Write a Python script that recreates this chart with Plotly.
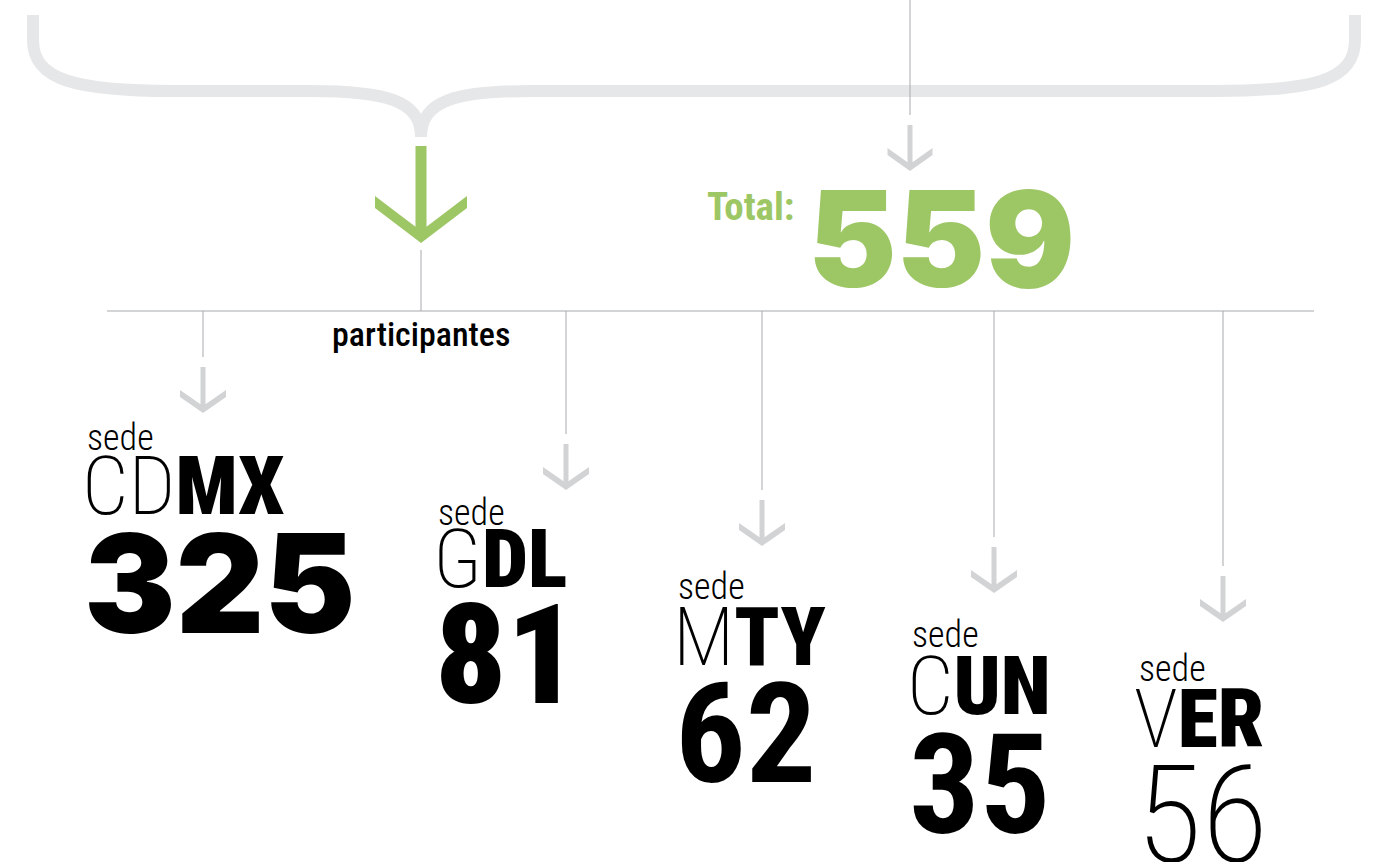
import plotly.graph_objects as go

# ---- data ----
sedes = ["CDMX", "GDL", "MTY", "CUN", "VER"]
participantes = [325, 81, 62, 35, 56]
total = sum(participantes)  # 559

# ---- layout (positions / styles, not data) ----
W, H = 1383, 862
branch_x = [203, 566, 762, 994, 1223]          # x of each branch line
branch_end = [357, 434, 490, 537, 566]         # y where each thin line stops
label_x = [80, 431, 671, 905, 1132]            # left edge of each label block
sede_y = [438, 513, 587, 635, 669]
code_y = [486, 559, 637, 686, 719]
num_y = [583, 655, 734, 785, 815]
thin_len = [2, 1, 1, 1, 1]
num_font = [dict(family="Inter", size=137, weight=900),
            dict(family="Roboto Condensed", size=140, weight=900),
            dict(family="Roboto Condensed", size=140, weight=700),
            dict(family="Roboto Condensed", size=140, weight=700),
            dict(family="Roboto Condensed", size=136, weight=200)]

GREEN = "#9dc665"
ARROW_GRAY = "#d1d3d4"
BRACE_GRAY = "#e6e7e8"
LINE_GRAY = "#a7a9ac"
COND = "Roboto Condensed"

fig = go.Figure()
fig.update_layout(width=W, height=H, margin=dict(l=0, r=0, t=0, b=0),
                  xaxis=dict(range=[0, W], visible=False, fixedrange=True),
                  yaxis=dict(range=[H, 0], visible=False, fixedrange=True),
                  plot_bgcolor="white", paper_bgcolor="white", showlegend=False)


def arrow_path(cx, y0, y1, y2, hw, sw, c):
    s = (y2 - y1 - c) / hw
    yj = y1 + s * (hw - sw)
    pts = [(cx - sw, y0), (cx + sw, y0), (cx + sw, yj), (cx + hw, y1), (cx + hw, y1 + c),
           (cx, y2), (cx - hw, y1 + c), (cx - hw, y1), (cx - sw, yj)]
    return "M " + " L ".join(f"{x:.1f} {y:.1f}" for x, y in pts) + " Z"


shapes = []
# brace
brace = ("M 33 15 V 40 C 33 80 75 91 175 91 H 310 C 385 91 421 100 421 137 "
         "M 421 137 C 421 100 457 91 532 91 H 1215 C 1315 91 1355 80 1355 40 V 15")
shapes.append(dict(type="path", path=brace, line=dict(color=BRACE_GRAY, width=12), fillcolor="rgba(0,0,0,0)"))
# vertical line at top feeding the total arrow
shapes.append(dict(type="line", x0=910, x1=910, y0=0, y1=115, line=dict(color=LINE_GRAY, width=1)))
shapes.append(dict(type="path", path=arrow_path(910, 125, 148, 171, 22.5, 2.5, 7),
                   fillcolor=ARROW_GRAY, line=dict(width=0)))
# green arrow
shapes.append(dict(type="path", path=arrow_path(421, 146, 196, 243, 46, 5.5, 12),
                   fillcolor=GREEN, line=dict(width=0)))
shapes.append(dict(type="line", x0=421, x1=421, y0=250, y1=311, line=dict(color=LINE_GRAY, width=1)))
# horizontal distribution line
shapes.append(dict(type="line", x0=107, x1=1314, y0=311, y1=311, line=dict(color=LINE_GRAY, width=1)))
for bx, be in zip(branch_x, branch_end):
    shapes.append(dict(type="line", x0=bx, x1=bx, y0=311, y1=be, line=dict(color=LINE_GRAY, width=1)))
    shapes.append(dict(type="path", path=arrow_path(bx, be + 10, be + 33, be + 56, 23, 2.5, 7),
                       fillcolor=ARROW_GRAY, line=dict(width=0)))
fig.update_layout(shapes=shapes)

ann = []
ann.append(dict(x=796, y=207, text="Total:", xanchor="right", yanchor="middle",
                font=dict(family=COND, size=39, weight=700, color=GREEN)))
ann.append(dict(x=806, y=238, text=str(total), xanchor="left", yanchor="middle",
                font=dict(family="Inter", size=133, weight=900, color=GREEN)))
ann.append(dict(x=421, y=334, text="participantes", xanchor="center", yanchor="middle",
                font=dict(family=COND, size=34, weight=500, color="black")))
for i, s in enumerate(sedes):
    ann.append(dict(x=label_x[i] + 5, y=sede_y[i], text="sede", xanchor="left", yanchor="middle",
                    font=dict(family=COND, size=36, weight=300, color="black")))
    code = s[:thin_len[i]] + "<span style='font-weight:900'>" + s[thin_len[i]:] + "</span>"
    ann.append(dict(x=label_x[i], y=code_y[i], text=code, xanchor="left", yanchor="middle",
                    font=dict(family=COND, size=82, weight=200, color="black")))
    ann.append(dict(x=label_x[i] + 2, y=num_y[i], text=str(participantes[i]), xanchor="left", yanchor="middle",
                    font=dict(color="black", **num_font[i])))
for a in ann:
    a.update(showarrow=False, xref="x", yref="y")
fig.update_layout(annotations=ann)

fig.write_html("out.html", config={"displayModeBar": False},
               post_script="document.body.style.margin='0';")
